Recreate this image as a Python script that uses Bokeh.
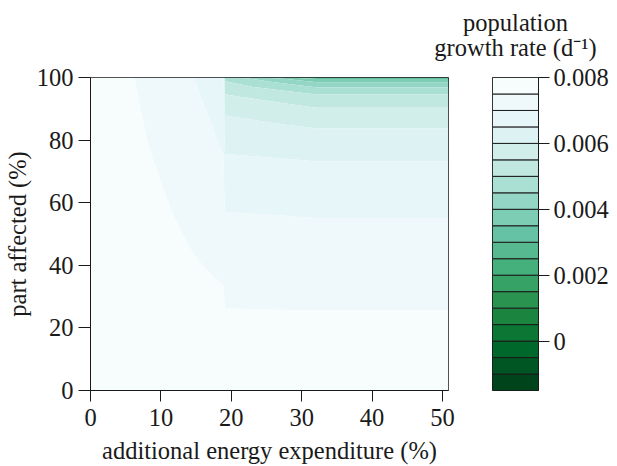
import numpy as np
from bokeh.plotting import figure
from bokeh.models import Range1d, FixedTicker, Label
from bokeh.layouts import row, column
from bokeh.embed import file_html
from bokeh.resources import INLINE

# ---------------- data ----------------
# additional energy expenditure (%) grid columns
energy = [0, 5, 8, 11, 14, 17, 18.9, 19.1, 32.2, 50.85]
# part affected (%) grid rows
affected = [0, 26, 33, 43, 56, 65, 74, 80, 85, 88, 91, 94, 95.5, 97, 98.5, 99.5, 100]
# population growth rate (d^-1), rows follow `affected`, columns follow `energy`
growth = [
    [0.0079, 0.0079,   0.0079,   0.0079,   0.0079,   0.0079,   0.0079,   0.0079,   0.0079,   0.0079],
    [0.0079, 0.007818, 0.007769, 0.007720, 0.007670, 0.007621, 0.007590, 0.007503, 0.007493, 0.007493],
    [0.0079, 0.007796, 0.007733, 0.007671, 0.007608, 0.007546, 0.007506, 0.007391, 0.007376, 0.007376],
    [0.0079, 0.007766, 0.007685, 0.007605, 0.007524, 0.007440, 0.007386, 0.007232, 0.007208, 0.007208],
    [0.0079, 0.007732, 0.007630, 0.007529, 0.007418, 0.007302, 0.007229, 0.007024, 0.006983, 0.006983],
    [0.0079, 0.007706, 0.007590, 0.007470, 0.007337, 0.007204, 0.007120, 0.006798, 0.006735, 0.006735],
    [0.0079, 0.007676, 0.007541, 0.007398, 0.007252, 0.007105, 0.007012, 0.006556, 0.006476, 0.006476],
    [0.0079, 0.007651, 0.007501, 0.007352, 0.007203, 0.007054, 0.006950, 0.006335, 0.006193, 0.006193],
    [0.0079, 0.007635, 0.007477, 0.007321, 0.007165, 0.007009, 0.006900, 0.006123, 0.005930, 0.005930],
    [0.0079, 0.007625, 0.007461, 0.007302, 0.007143, 0.006982, 0.006870, 0.005993, 0.005695, 0.005695],
    [0.0079, 0.007614, 0.007445, 0.007282, 0.007119, 0.006952, 0.006840, 0.005775, 0.005442, 0.005442],
    [0.0079, 0.007602, 0.007428, 0.007261, 0.007094, 0.006922, 0.006810, 0.005558, 0.005093, 0.005093],
    [0.0079, 0.007596, 0.007419, 0.007251, 0.007082, 0.006908, 0.006795, 0.005417, 0.004833, 0.004833],
    [0.0079, 0.007589, 0.007410, 0.007240, 0.007069, 0.006893, 0.006780, 0.005238, 0.004469, 0.004469],
    [0.0079, 0.007582, 0.007401, 0.007228, 0.007055, 0.006878, 0.006765, 0.005060, 0.004010, 0.004010],
    [0.0079, 0.007578, 0.007395, 0.007220, 0.007045, 0.006868, 0.006755, 0.004900, 0.003545, 0.003545],
    [0.0079, 0.007575, 0.007392, 0.007216, 0.007041, 0.006863, 0.006750, 0.004800, 0.002900, 0.002900],
]
# contour levels (band edges)
levels = [-0.0015, -0.001, -0.0005, 0.0, 0.0005, 0.001, 0.0015, 0.002, 0.0025, 0.003,
          0.0035, 0.004, 0.0045, 0.005, 0.0055, 0.006, 0.0065, 0.007, 0.0075, 0.008]
x_ticks = [0, 10, 20, 30, 40, 50]
y_ticks = [0, 20, 40, 60, 80, 100]
key_ticks = [0.0, 0.002, 0.004, 0.006, 0.008]
key_tick_labels = ["0", "0.002", "0.004", "0.006", "0.008"]

x_title = "additional energy expenditure (%)"
y_title = "part affected (%)"
key_title = ["population", "growth rate (d\u207b\u00b9)"]

# ---------------- style ----------------
FONT = "Liberation Serif"
FS = "24.5px"
INK = "#1a1a1a"
anchors = ["#f7fcfd", "#e5f5f9", "#ccece6", "#99d8c9", "#66c2a4",
           "#41ae76", "#238b45", "#006d2c", "#00441b"]


def ramp(n):
    rgb = np.array([[int(c[i:i + 2], 16) for i in (1, 3, 5)] for c in anchors], float)
    out = []
    for v in np.linspace(0, len(anchors) - 1, n):
        i = min(int(v), len(anchors) - 2)
        f = v - i
        c = rgb[i] * (1 - f) + rgb[i + 1] * f
        out.append("#%02x%02x%02x" % tuple(int(round(k)) for k in c))
    return out


colors = ramp(len(levels) - 1)[::-1]  # ascending levels: dark -> light


def style_axis(ax, tick_out):
    ax.major_label_text_font = FONT
    ax.major_label_text_font_size = FS
    ax.major_label_text_color = INK
    ax.axis_label_text_font = FONT
    ax.axis_label_text_font_size = FS
    ax.axis_label_text_font_style = "normal"
    ax.axis_label_text_color = INK
    ax.major_tick_out = tick_out
    ax.major_tick_in = 0
    ax.minor_tick_out = 0
    ax.minor_tick_in = 0
    ax.axis_line_color = INK
    ax.major_tick_line_color = INK


HEAD_H = 62
TOP, FRAME_H, BOTTOM = 15, 313, 76

# ---------------- main contour plot ----------------
p = figure(width=468, height=TOP + FRAME_H + BOTTOM,
           x_range=Range1d(0, 50.85), y_range=Range1d(0, 100),
           min_border_left=90, min_border_right=20,
           min_border_top=TOP, min_border_bottom=BOTTOM,
           border_fill_color=None,
           output_backend="svg", toolbar_location=None)
p.grid.visible = False
p.outline_line_color = INK
p.outline_line_width = 1
p.contour(x=energy, y=affected, z=np.array(growth), levels=levels,
          fill_color=colors, line_color=None)

p.xaxis.ticker = FixedTicker(ticks=x_ticks)
p.yaxis.ticker = FixedTicker(ticks=y_ticks)
p.xaxis.axis_label = x_title
p.yaxis.axis_label = y_title
for ax in p.xaxis:
    style_axis(ax, 11)
    ax.major_label_standoff = 7
    ax.axis_label_standoff = 8
for ax in p.yaxis:
    style_axis(ax, 12)
    ax.major_label_standoff = 5
    ax.axis_label_standoff = 3

# ---------------- colour key ----------------
k = figure(width=145, height=TOP + FRAME_H + BOTTOM,
           x_range=Range1d(0, 1), y_range=Range1d(levels[0], levels[-1]),
           min_border_left=24, min_border_right=75,
           min_border_top=TOP, min_border_bottom=BOTTOM,
           border_fill_color=None,
           x_axis_location=None, y_axis_location="right",
           output_backend="svg", toolbar_location=None)
k.grid.visible = False
k.outline_line_color = INK
k.quad(left=0, right=1, bottom=levels[:-1], top=levels[1:],
       fill_color=colors, line_color=INK, line_width=1)
k.yaxis.ticker = FixedTicker(ticks=key_ticks)
k.yaxis.major_label_overrides = dict(zip(key_ticks, key_tick_labels))
for ax in k.yaxis:
    style_axis(ax, 11)
    ax.major_label_standoff = 4

# ---------------- key title ----------------
head = figure(width=613, height=HEAD_H, min_border=0,
              x_axis_location=None, y_axis_location=None,
              border_fill_color=None,
              output_backend="svg", toolbar_location=None)
head.grid.visible = False
head.outline_line_color = None
# baselines measured from the bottom of this strip
for txt, yy in zip(key_title, [HEAD_H - 22, HEAD_H - 47]):
    head.add_layout(Label(x=515, y=yy, x_units="screen", y_units="screen",
                          text=txt, text_align="center", text_baseline="alphabetic",
                          text_font=FONT, text_font_size=FS, text_color=INK))

layout = column(head, row(p, k))
open("out.html", "w").write(file_html(layout, INLINE))
